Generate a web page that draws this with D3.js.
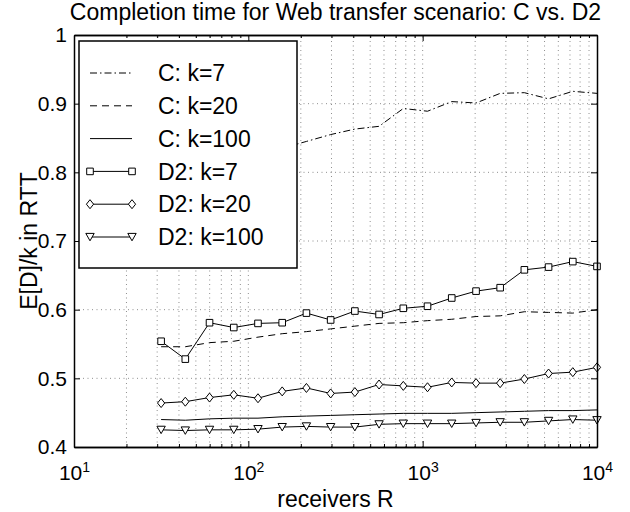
<!DOCTYPE html>
<html>
<head>
<meta charset="utf-8">
<script src="https://cdn.jsdelivr.net/npm/d3@7"></script>
<style>
  body { margin: 0; background: #fff; }
  text { font-family: "Liberation Sans", Arial, sans-serif; fill: #000; }
</style>
</head>
<body>
<script>
// receivers R (x values shared by every series)
const receivers = [31.6, 43.5, 59.9, 82.5, 113.6, 156.4, 215.4, 296.6, 408.4, 562.3,
                   774.3, 1066, 1468, 2024, 2783, 3831, 5275, 7264, 10000];
// E[D]/k in RTT
const cK7    = [0.79, 0.80, 0.81, 0.82, 0.83, 0.835, 0.845, 0.855, 0.863, 0.867,
                0.893, 0.889, 0.903, 0.901, 0.915, 0.916, 0.907, 0.918, 0.915];
const cK20   = [0.546, 0.546, 0.552, 0.554, 0.560, 0.565, 0.568, 0.572, 0.576, 0.580,
                0.581, 0.584, 0.586, 0.590, 0.591, 0.597, 0.596, 0.595, 0.600];
const cK100  = [0.440, 0.439, 0.441, 0.442, 0.442, 0.444, 0.445, 0.446, 0.447, 0.448,
                0.449, 0.449, 0.449, 0.450, 0.451, 0.452, 0.453, 0.453, 0.454];
const d2K7   = [0.554, 0.528, 0.581, 0.574, 0.580, 0.581, 0.595, 0.585, 0.598, 0.593,
                0.602, 0.605, 0.617, 0.627, 0.632, 0.658, 0.662, 0.670, 0.663];
const d2K20  = [0.464, 0.466, 0.472, 0.476, 0.471, 0.481, 0.486, 0.478, 0.480, 0.491,
                0.489, 0.487, 0.494, 0.493, 0.493, 0.499, 0.507, 0.509, 0.516];
const d2K100 = [0.425, 0.424, 0.425, 0.425, 0.426, 0.429, 0.430, 0.429, 0.429, 0.433,
                0.434, 0.434, 0.434, 0.435, 0.436, 0.436, 0.438, 0.440, 0.439];

const seriesNames = ["C: k=7", "C: k=20", "C: k=100", "D2: k=7", "D2: k=20", "D2: k=100"];
const xMajorTicks = [10, 100, 1000, 10000];
const yTicks = [0.4, 0.5, 0.6, 0.7, 0.8, 0.9, 1];
const titleText = "Completion time for Web transfer scenario: C vs. D2";
const xLabel = "receivers R";
const yLabel = "E[D]/k in RTT";

const width = 630, height = 512;
const margin = { top: 35, right: 33, bottom: 65, left: 74 };

const svg = d3.select("body").append("svg")
    .attr("width", width)
    .attr("height", height);

const x = d3.scaleLog().domain([10, 10000]).range([margin.left, width - margin.right]);
const y = d3.scaleLinear().domain([0.4, 1]).range([height - margin.bottom, margin.top]);

const xMinor = [];
xMajorTicks.slice(0, -1).forEach(p => { for (let m = 2; m <= 9; m++) xMinor.push(p * m); });

// grid
const grid = svg.append("g").attr("stroke", "#000").attr("stroke-width", 0.8)
    .attr("stroke-dasharray", "1,3.5").attr("opacity", 0.55);
grid.selectAll(".vg").data(xMinor.concat([100, 1000])).join("line")
    .attr("x1", d => x(d)).attr("x2", d => x(d))
    .attr("y1", y(0.4)).attr("y2", y(1));
grid.selectAll(".hg").data(yTicks.slice(1, -1)).join("line")
    .attr("x1", x(10)).attr("x2", x(10000))
    .attr("y1", d => y(d)).attr("y2", d => y(d));

// series
const squareType = { draw(ctx) { ctx.rect(-3.3, -3.3, 6.6, 6.6); } };
const diamondType = { draw(ctx) { ctx.moveTo(0, -4.5); ctx.lineTo(3.6, 0); ctx.lineTo(0, 4.5); ctx.lineTo(-3.6, 0); ctx.closePath(); } };
const triDownType = { draw(ctx) { ctx.moveTo(-4.2, -3.6); ctx.lineTo(4.2, -3.6); ctx.lineTo(0, 3.8); ctx.closePath(); } };

const series = [
  { name: seriesNames[0], values: cK7, dash: "7,3,1.5,3", marker: null },
  { name: seriesNames[1], values: cK20, dash: "7,5", marker: null },
  { name: seriesNames[2], values: cK100, dash: null, marker: null },
  { name: seriesNames[3], values: d2K7, dash: null, marker: squareType },
  { name: seriesNames[4], values: d2K20, dash: null, marker: diamondType },
  { name: seriesNames[5], values: d2K100, dash: null, marker: triDownType }
];

const line = d3.line().x(d => x(d[0])).y(d => y(d[1]));

const plot = svg.append("g");
series.forEach(s => {
  const pts = receivers.map((r, i) => [r, s.values[i]]);
  plot.append("path").datum(pts)
      .attr("d", line)
      .attr("fill", "none")
      .attr("stroke", "#000")
      .attr("stroke-width", 1)
      .attr("stroke-dasharray", s.dash);
  if (s.marker) {
    plot.selectAll(null).data(pts).join("path")
        .attr("d", d3.symbol().type(s.marker))
        .attr("transform", d => `translate(${x(d[0])},${y(d[1])})`)
        .attr("fill", "#fff")
        .attr("stroke", "#000")
        .attr("stroke-width", 1);
  }
});

// axes (MATLAB style inward ticks on all sides)
const xAxis = d3.axisBottom(x).tickValues(xMajorTicks).tickSizeInner(-6).tickSizeOuter(0).tickPadding(18);
const gx = svg.append("g").attr("transform", `translate(0,${y(0.4)})`).call(xAxis);
gx.selectAll(".tick text").each(function(d) {
  const t = d3.select(this).text(null).attr("font-size", 21);
  t.append("tspan").text("10");
  t.append("tspan").attr("dy", "-0.55em").attr("font-size", 14).text(Math.round(Math.log10(d)));
});
svg.append("g").attr("transform", `translate(0,${y(0.4)})`)
    .call(d3.axisBottom(x).tickValues(xMinor).tickSizeInner(-3).tickSizeOuter(0).tickFormat(""));

svg.append("g").attr("transform", `translate(0,${y(1)})`)
    .call(d3.axisTop(x).tickValues(xMajorTicks).tickSizeInner(-6).tickSizeOuter(0).tickFormat(""));
svg.append("g").attr("transform", `translate(0,${y(1)})`)
    .call(d3.axisTop(x).tickValues(xMinor).tickSizeInner(-3).tickSizeOuter(0).tickFormat(""));

const gy = svg.append("g").attr("transform", `translate(${x(10)},0)`)
    .call(d3.axisLeft(y).tickValues(yTicks).tickSizeInner(-6).tickSizeOuter(0).tickPadding(7)
      .tickFormat(d3.format("~g")));
gy.selectAll(".tick text").attr("font-size", 21);
svg.append("g").attr("transform", `translate(${x(10000)},0)`)
    .call(d3.axisRight(y).tickValues(yTicks).tickSizeInner(-6).tickSizeOuter(0).tickFormat(""));

svg.selectAll(".domain").attr("stroke", "#000").attr("stroke-width", 1.5);
svg.selectAll(".tick line").attr("stroke", "#000");
svg.selectAll(".tick text").attr("font-family", "Liberation Sans, Arial, sans-serif");

// legend
const lg = svg.append("g");
lg.append("rect").attr("x", 79).attr("y", 41).attr("width", 218).attr("height", 227)
    .attr("fill", "#fff").attr("stroke", "#000").attr("stroke-width", 1.5);
series.forEach((s, i) => {
  const ly = 73 + i * 32.8;
  lg.append("line").attr("x1", 90).attr("x2", 132).attr("y1", ly).attr("y2", ly)
      .attr("stroke", "#000").attr("stroke-width", 1).attr("stroke-dasharray", s.dash);
  if (s.marker) {
    [90, 132].forEach(mx => lg.append("path").attr("d", d3.symbol().type(s.marker))
        .attr("transform", `translate(${mx},${ly})`)
        .attr("fill", "#fff").attr("stroke", "#000"));
  }
  lg.append("text").attr("x", 158).attr("y", ly).attr("dy", "0.36em")
      .attr("font-size", 23).text(s.name);
});

// titles
const cx = (x(10) + x(10000)) / 2;
svg.append("text").attr("x", cx).attr("y", 20).attr("text-anchor", "middle")
    .attr("font-size", 23).text(titleText);
svg.append("text").attr("x", cx).attr("y", 507).attr("text-anchor", "middle")
    .attr("font-size", 23).text(xLabel);
svg.append("text").attr("transform", `translate(37,${(y(0.4) + y(1)) / 2}) rotate(-90)`)
    .attr("text-anchor", "middle").attr("font-size", 23).text(yLabel);
</script>
</body>
</html>
